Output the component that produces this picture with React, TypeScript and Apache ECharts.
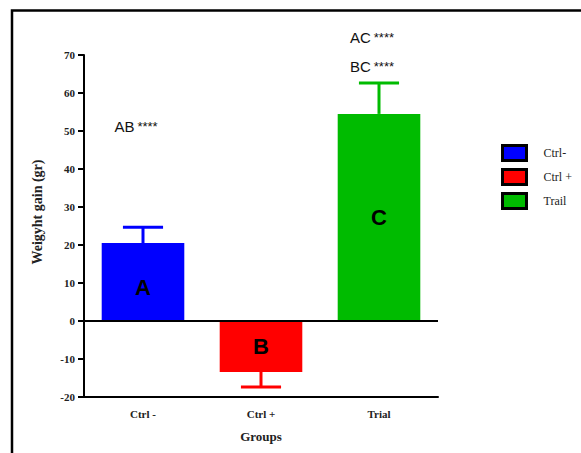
import React, { useEffect, useRef } from "react";
import * as echarts from "echarts";

const categories = ["Ctrl -", "Ctrl +", "Trial"];
const legendNames = ["Ctrl-", "Ctrl +", "Trail"];
const means = [20.5, -13.4, 54.5];
const errorEnds = [24.7, -17.4, 62.6];
const barLetters = ["A", "B", "C"];
const colors = ["#0000ff", "#ff0000", "#00bb00"];
const annotations: [number, number, string][] = [
  [0, 51.3, "AB"],
  [2, 74.5, "AC"],
  [2, 67.1, "BC"],
];
const yTicks = { min: -20, max: 70, interval: 10 };

const serif = "'Liberation Serif', 'DejaVu Serif', serif";
const sans = "'Liberation Sans', Arial, sans-serif";

export default function App() {
  const ref = useRef<HTMLDivElement>(null);
  useEffect(() => {
    if (!ref.current) return;
    const chart = echarts.init(ref.current, undefined, { renderer: "svg" });

    const barSeries = legendNames.map((name, i) => ({
      name,
      type: "bar",
      barWidth: "70%",
      barGap: "-100%",
      itemStyle: { color: colors[i] },
      data: categories.map((_, j) => (j === i ? means[i] : "-")),
      label: {
        show: true,
        position: "inside",
        offset: i === 0 ? [0, 5] : [0, 0],
        formatter: () => barLetters[i],
        color: "#000",
        fontFamily: sans,
        fontWeight: "bold",
        fontSize: 22,
      },
      z: 2,
      ...(i === 0
        ? {
            markLine: {
              silent: true,
              symbol: "none",
              label: { show: false },
              lineStyle: { color: "#000", type: "solid", width: 2 },
              data: [{ yAxis: 0 }],
              z: 5,
            },
          }
        : {}),
    }));

    const errorSeries = {
      type: "custom",
      name: "err",
      data: categories.map((_, i) => [i, means[i], errorEnds[i]]),
      renderItem: (params: any, api: any) => {
        const idx = api.value(0);
        const p0 = api.coord([idx, api.value(1)]);
        const p1 = api.coord([idx, api.value(2)]);
        const band = api.size([1, 0])[0];
        const half = band * 0.17;
        const color = colors[params.dataIndex];
        const style = { stroke: color, lineWidth: 3 };
        return {
          type: "group",
          children: [
            { type: "line", shape: { x1: p0[0], y1: p0[1], x2: p1[0], y2: p1[1] }, style },
            { type: "line", shape: { x1: p1[0] - half, y1: p1[1], x2: p1[0] + half, y2: p1[1] }, style },
          ],
        };
      },
      z: 1,
    };

    const annoSeries = {
      type: "custom",
      name: "anno",
      clip: false,
      data: annotations,
      renderItem: (params: any, api: any) => {
        const idx = api.value(0);
        const p = api.coord([idx, api.value(1)]);
        const txt = annotations[params.dataIndex][2];
        return {
          type: "text",
          x: p[0] - 7,
          y: p[1],
          style: {
            text: `{a|${txt}}{s|****}`,
            align: "center",
            verticalAlign: "middle",
            rich: {
              a: { fontFamily: sans, fontSize: 15, fill: "#111", color: "#111" },
              s: { fontFamily: sans, fontSize: 13, fill: "#111", color: "#111", padding: [0, 0, 0, 3] },
            },
          },
        };
      },
      z: 10,
    };

    chart.setOption({
      animation: false,
      backgroundColor: "#fff",
      grid: { left: 84, right: 143, top: 55, bottom: 56 },
      legend: {
        data: legendNames,
        orient: "vertical",
        left: 496,
        top: 139,
        itemWidth: 24,
        itemHeight: 15,
        itemGap: 6,
        icon: "rect",
        itemStyle: { borderColor: "#000", borderWidth: 3 },
        textStyle: { fontFamily: serif, fontSize: 12, color: "#222", padding: [0, 0, 0, 12] },
        selectedMode: false,
      },
      xAxis: {
        type: "category",
        data: categories,
        position: "bottom",
        axisLine: { onZero: false, lineStyle: { color: "#000", width: 2 } },
        axisTick: { alignWithLabel: true, length: 5, lineStyle: { width: 2, color: "#000" } },
        axisLabel: { fontFamily: serif, fontWeight: "bold", fontSize: 11, color: "#222", margin: 11 },
        name: "Groups",
        nameLocation: "middle",
        nameGap: 33,
        nameTextStyle: { fontFamily: serif, fontWeight: "bold", fontSize: 13, color: "#222" },
      },
      yAxis: {
        type: "value",
        min: yTicks.min,
        max: yTicks.max,
        interval: yTicks.interval,
        splitLine: { show: false },
        axisLine: { show: true, lineStyle: { color: "#000", width: 2 } },
        axisTick: { show: true, length: 6, lineStyle: { width: 2, color: "#000" } },
        axisLabel: { fontFamily: serif, fontWeight: "bold", fontSize: 11, color: "#222", margin: 9 },
        name: "Weigyht gain (gr)",
        nameLocation: "middle",
        nameGap: 40,
        nameTextStyle: { fontFamily: serif, fontWeight: "bold", fontSize: 14, color: "#222", padding: [0, 0, 0, 28] },
      },
      graphic: [
        {
          type: "rect",
          shape: { x: 12, y: 10.5, width: 700, height: 600 },
          style: { fill: "none", stroke: "#000", lineWidth: 2.5 },
          silent: true,
          z: 100,
        },
      ],
      series: [...barSeries, errorSeries, annoSeries],
    });
    return () => chart.dispose();
  }, []);
  return (
    <div
      ref={ref}
      style={{ position: "absolute", left: 0, top: 0, width: 581, height: 453 }}
    />
  );
}
